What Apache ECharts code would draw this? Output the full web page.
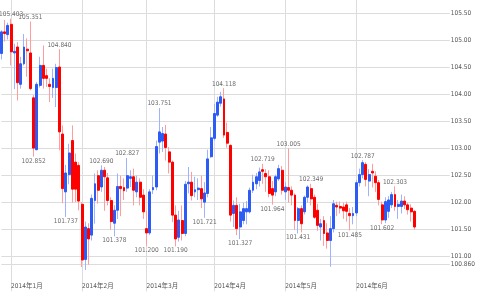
<!DOCTYPE html>
<html><head><meta charset="utf-8">
<script src="https://cdn.jsdelivr.net/npm/echarts@6/dist/echarts.min.js"></script>
<style>html,body{margin:0;padding:0;background:#fff}#c{width:478px;height:293px}</style>
</head><body><div id="c"></div>
<script>
// ---- data ----
const OPEN = [104.76,105.16,105.11,105.30,104.77,104.88,104.19,104.57,104.84,104.77,
103.94,102.98,104.17,104.54,104.35,104.19,104.13,104.13,104.51,103.27,
102.20,102.52,103.15,102.75,102.69,101.97,100.95,101.52,101.40,102.04,
102.50,102.29,102.60,102.46,102.04,101.62,101.86,102.30,102.28,102.27,
102.45,102.48,102.20,102.38,102.14,101.52,101.44,102.24,102.29,103.12,
103.14,103.27,102.94,102.75,101.77,101.36,101.67,101.43,102.35,102.38,
102.20,102.24,102.26,102.01,102.17,102.85,103.19,103.62,103.84,103.92,
103.30,103.06,101.80,101.95,101.55,101.67,101.83,101.83,102.23,102.35,
102.41,102.61,102.54,102.48,102.26,102.20,102.44,102.60,102.20,102.28,
102.23,102.14,101.67,101.89,101.83,102.10,102.26,102.10,101.86,101.55,
101.67,101.44,101.30,101.52,101.95,101.93,101.92,101.96,101.80,101.76,
101.81,102.37,102.52,102.71,102.40,102.58,102.49,102.37,101.96,101.68,
101.84,101.96,102.15,101.93,101.93,102.03,101.96,101.90,101.84];
const HIGH = [105.19,105.38,105.33,105.403,104.94,104.97,104.70,105.12,105.04,105.351,
103.99,104.23,104.70,104.91,104.48,104.30,104.48,104.57,104.840,103.43,
102.70,103.09,103.43,102.91,102.75,102.01,101.65,101.62,102.15,102.54,
102.60,102.690,102.66,102.55,102.10,101.95,102.54,102.50,102.45,102.827,
102.60,102.63,102.50,102.45,102.25,101.85,102.25,102.50,103.15,103.751,
103.40,103.44,103.03,102.78,101.95,101.85,101.95,102.40,102.66,102.57,
102.48,102.45,102.50,102.38,102.98,103.40,103.83,103.96,104.05,104.118,
103.48,103.08,102.04,102.10,101.98,102.00,102.03,102.28,102.52,102.55,
102.65,102.719,102.62,102.60,102.40,102.52,102.70,102.68,102.38,103.005,
102.30,102.17,101.92,101.95,102.13,102.32,102.349,102.15,101.98,101.70,
101.75,101.62,101.75,102.05,102.02,102.02,102.00,102.02,101.90,101.92,
102.42,102.63,102.787,102.75,102.62,102.72,102.58,102.42,102.02,102.10,
102.12,102.20,102.303,102.05,102.15,102.12,102.00,101.97,101.86];
const LOW = [104.65,104.98,105.02,104.54,104.10,103.89,104.11,104.54,104.33,104.08,
102.852,102.97,104.13,104.11,104.14,103.86,103.94,103.77,102.97,101.99,
101.737,102.34,102.00,102.01,101.86,100.81,100.755,100.85,101.30,101.61,
101.98,102.20,101.85,101.95,101.50,101.378,101.70,101.75,102.05,102.20,
102.29,101.95,102.10,101.95,101.70,101.200,101.40,102.16,102.23,102.91,
102.94,102.78,102.54,101.64,101.190,101.28,101.30,101.38,102.17,102.04,
102.10,102.05,101.90,101.721,102.10,102.83,103.15,103.59,103.78,103.20,
103.02,101.65,101.55,101.40,101.327,101.60,101.60,101.80,102.18,102.25,
102.30,102.35,102.20,102.10,101.964,102.12,102.40,102.15,102.05,102.00,
101.95,101.50,101.431,101.45,101.78,102.00,101.95,101.70,101.48,101.30,
101.20,101.15,100.815,101.45,101.75,101.80,101.70,101.65,101.485,101.60,
101.75,102.30,102.45,102.30,102.12,102.28,102.20,101.95,101.602,101.62,
101.72,101.90,101.85,101.70,101.80,101.88,101.78,101.65,101.50];
const CLOSE = [105.16,105.13,105.28,104.79,104.80,104.22,104.57,104.88,104.81,104.11,
103.01,104.19,104.54,104.30,104.30,104.15,104.30,104.50,103.31,102.26,
102.55,102.92,102.25,102.25,102.03,100.94,101.55,101.33,102.08,102.35,
102.23,102.60,102.48,102.04,101.65,101.86,102.30,102.26,102.22,102.50,
102.48,102.23,102.38,102.10,101.83,101.44,102.20,102.28,103.04,103.31,
103.28,103.02,102.75,101.77,101.33,101.68,101.43,102.34,102.38,102.13,
102.24,102.27,102.07,102.18,102.81,103.20,103.65,103.86,103.96,103.25,
103.10,101.77,101.95,101.52,101.83,101.89,101.89,102.23,102.38,102.48,
102.57,102.58,102.48,102.17,102.14,102.48,102.63,102.23,102.29,102.23,
102.14,101.67,101.89,101.61,102.10,102.29,102.07,101.73,101.58,101.61,
101.43,101.30,101.52,101.98,101.92,101.90,101.85,101.84,101.76,101.80,
102.37,102.52,102.74,102.43,102.52,102.55,102.37,102.06,101.68,102.02,
102.05,102.15,101.93,101.97,102.03,101.96,101.87,101.83,101.55];
const SWING_HIGH_IDX = [3,9,18,31,39,49,69,81,89,96,112,122];
const SWING_LOW_IDX = [10,20,26,35,45,54,63,74,84,92,102,108,118];
const Y_TICKS = [100.86,101,101.5,102,102.5,103,103.5,104,104.5,105,105.5];
const Y_TICK_LABELS = ['100.860','101.00','101.50','102.00','102.50','103.00','103.50','104.00','104.50','105.00','105.50'];
const FIRST_DAY = '2013-12-27', LAST_DAY = '2014-06-30';
const HOLIDAYS = ['2014-01-01'];
const SLOTS = 140;

// ---- categories: trading days, padded with empty future slots ----
const cats = [];
{
  let d = new Date(FIRST_DAY + 'T00:00:00Z');
  const end = new Date(LAST_DAY + 'T00:00:00Z');
  while (d <= end) {
    const iso = d.toISOString().slice(0, 10);
    const wd = d.getUTCDay();
    if (wd !== 0 && wd !== 6 && HOLIDAYS.indexOf(iso) < 0) cats.push(iso);
    d = new Date(d.getTime() + 86400000);
  }
  while (cats.length < SLOTS) cats.push('');
}
const isMonthStart = cats.map((c, i) => i > 0 && c !== '' && cats[i - 1] !== '' && c.slice(5, 7) !== cats[i - 1].slice(5, 7));
const monthFn = (i) => isMonthStart[i];

const wickData = OPEN.map((o, i) => [o, CLOSE[i], LOW[i], HIGH[i]]);
const bodyData = OPEN.map((o, i) => [o, CLOSE[i], Math.min(o, CLOSE[i]), Math.max(o, CLOSE[i])]);
const swingData = SWING_HIGH_IDX.map(i => ({ value: [i, HIGH[i]], label: { position: 'top', distance: 1 } }))
  .concat(SWING_LOW_IDX.map(i => ({ value: [i, LOW[i]], label: { position: 'bottom', distance: 1 } })));

const FONT = '"Liberation Sans Narrow","DejaVu Sans Condensed","Liberation Sans","Noto Sans CJK JP",sans-serif';
const GRID_C = '#dcdcdc';

const chart = echarts.init(document.getElementById('c'), null, { renderer: 'canvas' });
chart.setOption({
  animation: false,
  backgroundColor: '#fff',
  grid: { left: 1.4, right: 21, top: 0, bottom: 28.7, containLabel: false },
  xAxis: {
    type: 'category', data: cats, boundaryGap: false,
    axisLine: { show: false },
    axisTick: { show: true, interval: monthFn, length: 27, lineStyle: { color: GRID_C } },
    axisLabel: {
      interval: monthFn, align: 'left', margin: 19, fontSize: 6.5, lineHeight: 7,
      color: '#555', fontFamily: FONT,
      formatter: v => v ? (v.slice(0, 4) + '年' + (+v.slice(5, 7)) + '月') : ''
    },
    splitLine: { show: true, interval: monthFn, lineStyle: { color: GRID_C } }
  },
  yAxis: {
    type: 'value', position: 'right', min: 100.86, max: 105.75, scale: true,
    axisLine: { show: false },
    axisTick: { show: false, customValues: Y_TICKS },
    axisLabel: {
      customValues: Y_TICKS, margin: 1, fontSize: 6.5, color: '#555', fontFamily: FONT,
      formatter: v => { const k = Y_TICKS.findIndex(t => Math.abs(t - v) < 1e-6); return k >= 0 ? Y_TICK_LABELS[k] : ''; }
    },
    splitLine: { show: true, lineStyle: { color: GRID_C, width: 1 } }
  },
  series: [
    { type: 'candlestick', data: wickData, barWidth: 1, silent: true, clip: false,
      itemStyle: { color: '#9fb2ff', color0: '#ff9c9c', borderColor: '#9fb2ff', borderColor0: '#ff9c9c', borderWidth: 1 } },
    { type: 'candlestick', data: bodyData, barWidth: 2.4, silent: true, clip: false,
      itemStyle: { color: '#2d5cf5', color0: '#ff0000', borderColor: '#2d5cf5', borderColor0: '#ff0000', borderWidth: 1 } },
    { type: 'scatter', data: swingData, symbolSize: 0.1, silent: true,
      itemStyle: { color: 'rgba(0,0,0,0)' },
      label: { show: true, fontSize: 6.5, color: '#444', fontFamily: FONT, formatter: p => p.value[1].toFixed(3) } }
  ]
});
</script></body></html>
